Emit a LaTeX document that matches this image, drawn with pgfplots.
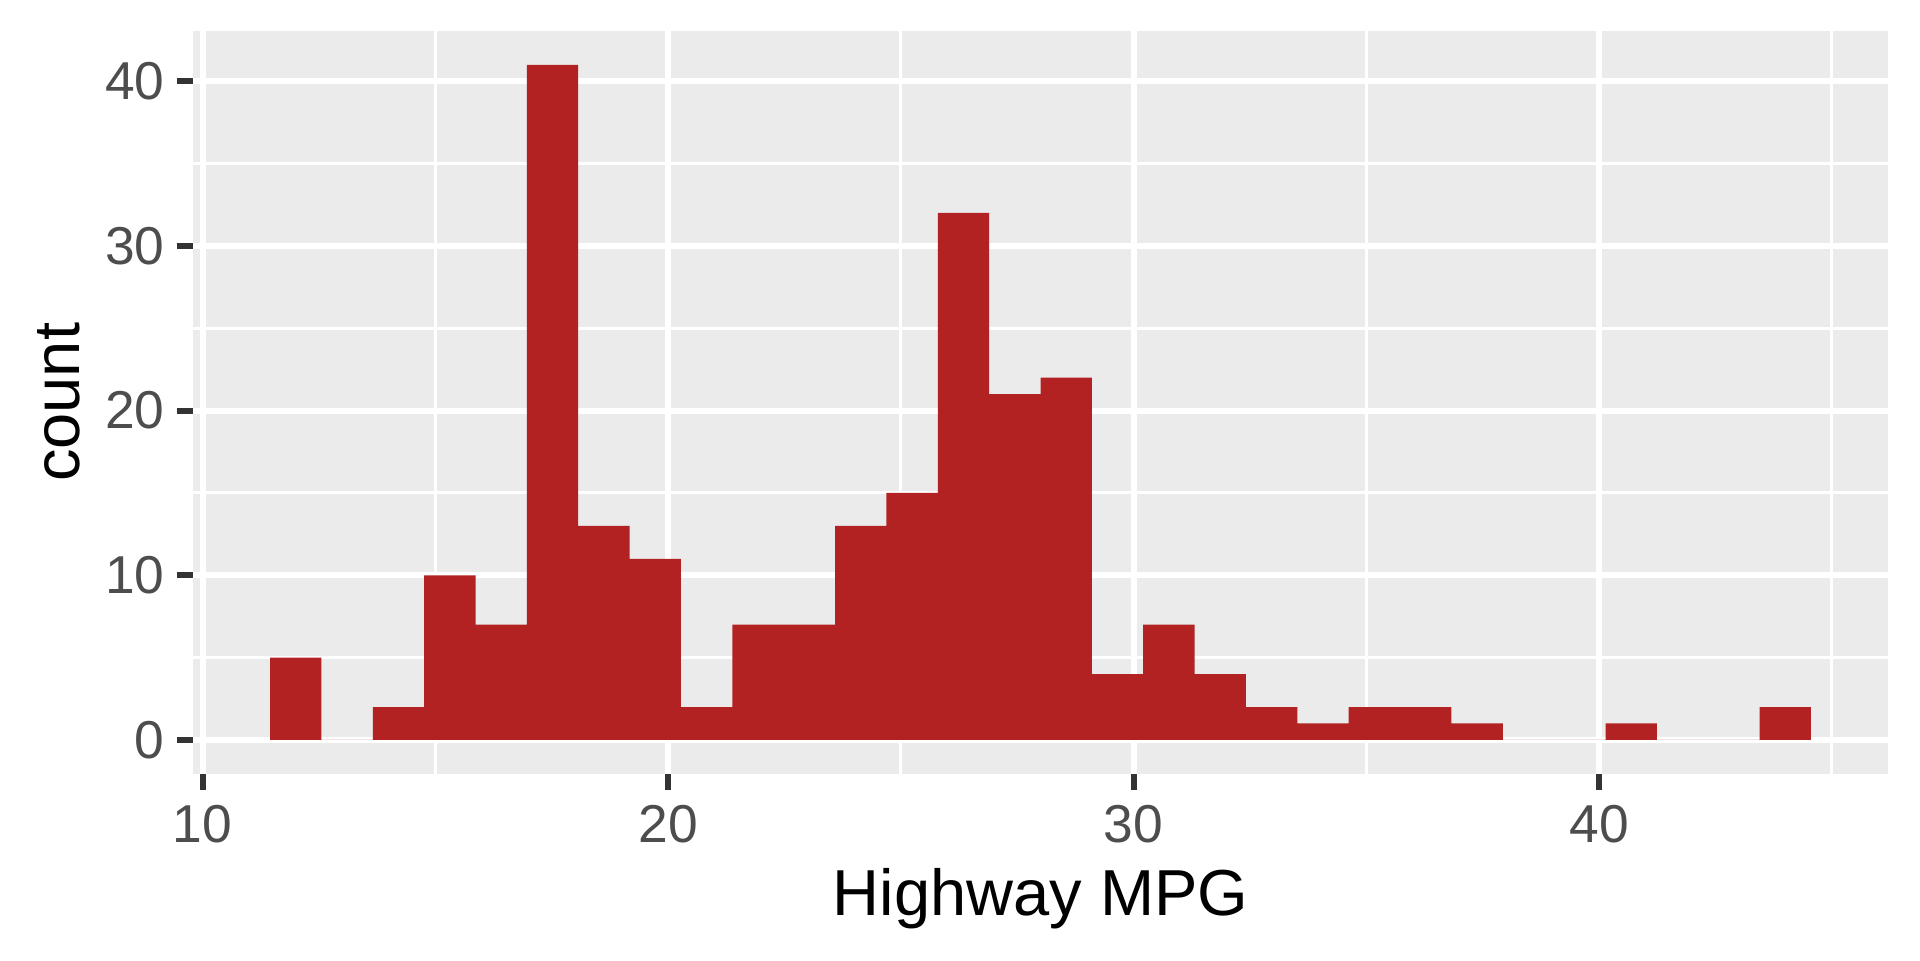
\documentclass[border=0pt]{standalone}
\usepackage{pgfplots}
\pgfplotsset{compat=1.18}
\usepackage{fontspec}
\setmainfont{Liberation Sans}
\definecolor{firebrick}{RGB}{178,34,34}
\definecolor{gray92}{RGB}{235,235,235}
\definecolor{gray20}{RGB}{51,51,51}
\definecolor{gray30}{RGB}{77,77,77}
\begin{document}
\begin{tikzpicture}
\path[use as bounding box] (0,0) rectangle (460.8bp,230.4bp);
\begin{axis}[
  at={(46.32bp,44.71bp)}, anchor=south west,
  scale only axis, width=406.8bp, height=178.25bp,
  xmin=9.793, xmax=46.207, ymin=-2.05, ymax=43.05,
  axis x line*=bottom, axis y line*=left,
  axis line style={draw=none},
  axis background/.style={fill=gray92},
  xtick={10,20,30,40}, ytick={0,10,20,30,40},
  minor xtick={15,25,35,45}, minor ytick={5,15,25,35},
  grid=both,
  major grid style={white, line width=1.44bp},
  minor grid style={white, line width=0.7bp},
  tick align=outside,
  major tick length=3.96bp, minor tick length=0pt,
  major tick style={gray20, line width=1.44bp},
  /pgf/number format/assume math mode=true,
  ticklabel style={font=\fontsize{12.8bp}{14bp}\selectfont, text=gray30},
  xticklabel style={anchor=north, inner sep=0pt, yshift=-3.48bp},
  yticklabel style={anchor=east, inner sep=0pt, xshift=-2.7bp},
  xlabel={Highway MPG}, ylabel={count},
  label style={font=\fontsize{15.6bp}{18bp}\selectfont, text=black},
  xlabel style={at={(axis description cs:0.5,-0.19025)}, anchor=base, inner sep=0pt},
  ylabel style={at={(axis description cs:-0.06667,0.5)}, anchor=base, inner sep=0pt},
]
\addplot[ybar interval, fill=firebrick, draw=none] coordinates {
(11.4483,5) (12.5517,0) (13.6552,2) (14.7586,10) (15.8621,7)
(16.9655,41) (18.0690,13) (19.1724,11) (20.2759,2) (21.3793,7)
(22.4828,7) (23.5862,13) (24.6897,15) (25.7931,32) (26.8966,21)
(28.0000,22) (29.1034,4) (30.2069,7) (31.3103,4) (32.4138,2)
(33.5172,1) (34.6207,2) (35.7241,2) (36.8276,1) (37.9310,0)
(39.0345,0) (40.1379,1) (41.2414,0) (42.3448,0) (43.4483,2)
(44.5517,0)
};
\end{axis}
\end{tikzpicture}
\end{document}
